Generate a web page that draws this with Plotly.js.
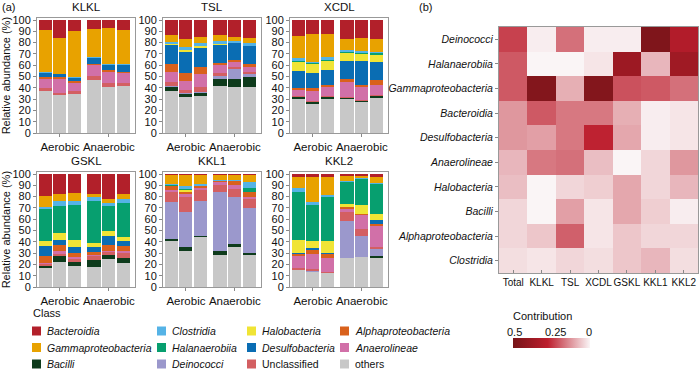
<!DOCTYPE html>
<html>
<head>
<meta charset="utf-8">
<script src="https://cdn.plot.ly/plotly-3.0.1.min.js"></script>
<style>body{margin:0;background:#fff} #chart{width:700px;height:370px}</style>
</head>
<body>
<div id="chart"></div>
<script>
// sites (one panel each), 3 aerobic + 3 anaerobic bars per panel
const sites = ['KLKL', 'TSL', 'XCDL', 'GSKL', 'KKL1', 'KKL2'];
const groupLabels = ['Aerobic', 'Anaerobic'];
const barPos = [1, 2, 3, 4.3, 5.3, 6.3];
const groupPos = [2, 5.3];

// relative abundance (%), 6 bars per site, sites in order above
const others = [37.1, 33.3, 34.2, 46.8, 40.9, 41.5,  37.2, 31.6, 32.7, 41.6, 40.4, 41,  30, 25.9, 30.3, 30, 27.6, 30.9,
                17, 22.5, 19, 18, 25, 21,  41, 32, 44, 28.5, 35.5, 28,  15, 13, 12, 26, 26.5, 26];
const bacilli = [0, 0, 0, 0, 0, 0,  3.2, 2.6, 3.0, 5.9, 7.7, 8.3,  1.8, 1.2, 1.2, 0.9, 0.9, 1.5,
                 1.5, 4.5, 3, 5.5, 3, 4.5,  1.5, 3, 1, 3.5, 2.5, 2.5,  0, 0, 0, 0, 0, 1.5];
const deinococci = [0, 0, 0, 0, 0, 0,  1.2, 0.9, 0.9, 2.9, 8.5, 2.9,  0, 0, 0, 0, 0, 0,
                    0, 0, 0, 0, 0, 0,  32.5, 31, 31, 52, 42, 39.5,  0, 1.5, 0, 32, 18.5, 6];
const unclassified = [2.9, 2.4, 2.9, 3.5, 3.5, 2.9,  3.8, 3.0, 3.8, 2.4, 2.1, 2.1,  0.6, 0.8, 0.9, 0.9, 0.9, 1.4,
                      1.5, 2.5, 3, 3.5, 3, 5,  9, 14, 10, 6, 7, 8,  1.5, 1.5, 1.5, 8.5, 6, 2];
const anaerolineae = [8, 12.3, 6.8, 9.6, 10, 8.8,  8.9, 7.9, 11.8, 7.1, 4.1, 4.4,  5.8, 8.9, 8.2, 12.9, 11.2, 8.8,
                      1.5, 2.5, 1.5, 1, 1, 1.5,  2, 2, 2, 2.5, 3, 2,  10.5, 13, 12.5, 2.5, 12.5, 18.5];
const alphaproteobacteria = [1.4, 1.4, 1.7, 1.2, 1.2, 0.9,  6.8, 7.4, 5.9, 1.8, 1.8, 2.4,  1.5, 2.9, 2.0, 2.9, 2.0, 4.5,
                             5.5, 5, 3.5, 3, 5, 4.5,  3.5, 2.5, 1.5, 1, 3.5, 4.5,  2.5, 4, 3.5, 2, 1, 2];
const desulfobacteria = [3.5, 2.6, 3.5, 5.6, 4.9, 6.1,  16.5, 18.3, 17.4, 16.5, 15.0, 15.6,  15.6, 13.8, 13.3, 16.2, 21.2, 15.3,
                         9, 5, 5, 4, 8, 4.5,  0, 0, 0, 0, 0, 0,  1, 1.5, 0.5, 0, 0, 3];
const halobacteria = [0, 0, 0, 0, 0, 0,  1.4, 1.8, 1.5, 0.6, 0.3, 0.3,  7.6, 7.4, 7.9, 6.8, 5.9, 6.7,
                      5, 6, 7, 4, 5, 3.5,  0, 1.5, 0, 0, 0, 0,  11.5, 6.5, 10.5, 2.5, 8, 6];
const halanaerobiia = [0, 0, 0, 0, 0, 0,  0, 0, 0, 0, 0, 0,  1.2, 0.9, 0.9, 0.9, 1.5, 1.5,
                       28, 24, 31, 37, 22, 29.5,  0.5, 1, 0, 0, 0, 3.5,  42.5, 32, 39.5, 19.5, 23, 26];
const clostridia = [0.9, 0.6, 0.6, 0.6, 0.9, 1.2,  1.8, 2.3, 2.4, 2.9, 1.8, 2.9,  2.1, 1.4, 2.4, 2.0, 1.7, 1.5,
                    2, 4, 3, 4, 2, 4,  1.5, 2, 1.5, 1.5, 1, 5,  3, 2, 1.5, 1, 1, 1];
const gammaproteobacteria = [37.4, 31.3, 40.9, 24.8, 31.3, 29.8,  5.9, 7.1, 5.9, 5.0, 3.0, 4.5,  20, 24.2, 20.5, 9.7, 10.9, 10.8,
                             9.5, 6, 7, 2, 4, 4,  7.5, 10, 8, 4.5, 4.5, 6,  10, 22.5, 16, 4.5, 2, 5];
const bacteroidia = [8.8, 16.1, 9.4, 7.9, 7.3, 8.8,  13.3, 17.1, 14.7, 13.3, 15.3, 15.6,  13.8, 12.6, 12.4, 16.8, 16.2, 17.1,
                     19.5, 18, 17, 18, 22, 18,  1, 1, 1, 0.5, 1, 1,  2.5, 2.5, 2.5, 1.5, 1.5, 3];

// heatmap: contribution of each class per site
const heatCols = ['Total', 'KLKL', 'TSL', 'XCDL', 'GSKL', 'KKL1', 'KKL2'];
const heatRows = ['Deinococci', 'Halanaerobiia', 'Gammaproteobacteria', 'Bacteroidia', 'Desulfobacteria',
                  'Anaerolineae', 'Halobacteria', 'Bacilli', 'Alphaproteobacteria', 'Clostridia'];
const contribution = [
  [0.23, 0.01, 0.17, 0.01, 0.01, 0.47, 0.31],
  [0.2, 0.0, 0.0, 0.02, 0.38, 0.08, 0.37],
  [0.2, 0.46, 0.09, 0.46, 0.21, 0.2, 0.17],
  [0.12, 0.2, 0.16, 0.16, 0.09, 0.01, 0.02],
  [0.12, 0.11, 0.16, 0.27, 0.1, 0.01, 0.02],
  [0.08, 0.16, 0.17, 0.07, 0.0, 0.04, 0.12],
  [0.07, 0.0, 0.04, 0.05, 0.1, 0.04, 0.08],
  [0.04, 0.0, 0.11, 0.02, 0.1, 0.05, 0.01],
  [0.04, 0.06, 0.19, 0.02, 0.06, 0.04, 0.04],
  [0.03, 0.02, 0.04, 0.03, 0.06, 0.08, 0.03]
];

// stack order bottom -> top
const stack = [
  {name: 'others', vals: others, color: '#c8c8c8'},
  {name: 'Bacilli', vals: bacilli, color: '#0e3b1c'},
  {name: 'Deinococci', vals: deinococci, color: '#9b98cc'},
  {name: 'Unclassified', vals: unclassified, color: '#d35f62'},
  {name: 'Anaerolineae', vals: anaerolineae, color: '#d170a8'},
  {name: 'Alphaproteobacteria', vals: alphaproteobacteria, color: '#d9611c'},
  {name: 'Desulfobacteria', vals: desulfobacteria, color: '#0a6db3'},
  {name: 'Halobacteria', vals: halobacteria, color: '#f0e435'},
  {name: 'Halanaerobiia', vals: halanaerobiia, color: '#079f6f'},
  {name: 'Clostridia', vals: clostridia, color: '#55b3e6'},
  {name: 'Gammaproteobacteria', vals: gammaproteobacteria, color: '#e8a200'},
  {name: 'Bacteroidia', vals: bacteroidia, color: '#b2202a'}
];
const legendOrder = ['Bacteroidia', 'Clostridia', 'Halobacteria', 'Alphaproteobacteria',
                     'Gammaproteobacteria', 'Halanaerobiia', 'Desulfobacteria', 'Anaerolineae',
                     'Bacilli', 'Deinococci', 'Unclassified', 'others'];

const W = 700, H = 370;
function px(x){ return x / W; }
function py(y){ return 1 - y / H; }
const FONT = '"Liberation Sans", Arial, sans-serif';

const colX = [[37, 135], [163, 261], [290, 388]];
const rowY = [[18.3, 133], [172.3, 287]];

let data = [];
let layout = {
  width: W, height: H,
  margin: {l: 0, r: 0, t: 0, b: 0},
  paper_bgcolor: '#fff', plot_bgcolor: '#fff',
  barmode: 'stack', bargap: 0,
  showlegend: false,
  font: {family: FONT, size: 11, color: '#111'},
  annotations: [], shapes: []
};

for (let s = 0; s < sites.length; s++) {
  let n = s + 1;
  let xa = n === 1 ? 'x' : 'x' + n, ya = n === 1 ? 'y' : 'y' + n;
  let c = colX[s % 3], r = rowY[Math.floor(s / 3)];
  stack.forEach(function(cls){
    data.push({
      type: 'bar', x: barPos, y: cls.vals.slice(s * 6, s * 6 + 6),
      xaxis: xa, yaxis: ya, width: 0.88, name: cls.name,
      marker: {color: cls.color, line: {width: 0}},
      hovertemplate: sites[s] + '<br>' + cls.name + ': %{y}%<extra></extra>'
    });
  });
  layout['xaxis' + (n === 1 ? '' : n)] = {
    domain: [px(c[0]), px(c[1])], anchor: ya, range: [0.45, 7.07],
    tickvals: groupPos, ticktext: groupLabels, ticks: 'outside', ticklen: 3, tickcolor: '#888',
    showline: true, mirror: true, linecolor: '#999', linewidth: 1,
    showgrid: false, zeroline: false, tickfont: {size: 11.5}, fixedrange: true
  };
  layout['yaxis' + (n === 1 ? '' : n)] = {
    domain: [py(r[1]), py(r[0])], anchor: xa, range: [0, 101.5], dtick: 10, tick0: 0,
    ticks: 'outside', ticklen: 3, tickcolor: '#888',
    showline: true, mirror: true, linecolor: '#999', linewidth: 1,
    showgrid: false, zeroline: false, tickfont: {size: 11}, fixedrange: true,
    title: s % 3 === 0 ? {text: 'Relative abundance (%)', font: {size: 11}, standoff: 3} : undefined
  };
  layout.annotations.push({
    text: sites[s], xref: 'paper', yref: 'paper', x: px((c[0] + c[1]) / 2), y: py(r[0] - 11.5),
    xanchor: 'center', yanchor: 'middle', showarrow: false, font: {size: 11.5}
  });
}

// heatmap, z negated so the colour bar reads 0.5 -> 0 left to right
data.push({
  type: 'heatmap', x: heatCols, y: heatRows,
  z: contribution.map(function(row){ return row.map(function(v){ return -v; }); }),
  customdata: contribution,
  xaxis: 'x7', yaxis: 'y7', zmin: -0.5, zmax: 0,
  colorscale: [[0, '#761418'], [0.45, '#bd1e2d'], [1, '#faf5f6']],
  hovertemplate: '%{y} / %{x}: %{customdata}<extra></extra>',
  colorbar: {
    orientation: 'h', x: px(513), xanchor: 'left', y: py(338), yanchor: 'top',
    len: 77, lenmode: 'pixels', thickness: 10, thicknessmode: 'pixels',
    showticklabels: false, ticks: '', outlinewidth: 0, xpad: 0, ypad: 0
  }
});
layout.xaxis7 = {
  domain: [px(499), px(698)], anchor: 'y7', ticks: 'inside', ticklen: 3, tickcolor: '#888',
  showline: true, mirror: true, linecolor: '#999', linewidth: 1, showgrid: false, zeroline: false,
  tickangle: 0, tickfont: {size: 10}, fixedrange: true
};
layout.yaxis7 = {
  domain: [py(273), py(27)], anchor: 'x7', autorange: 'reversed',
  tickvals: heatRows, ticktext: heatRows.map(function(t){ return '<i>' + t + '</i>'; }),
  ticks: 'outside', ticklen: 3, tickcolor: '#888',
  showline: true, mirror: true, linecolor: '#999', linewidth: 1, showgrid: false, zeroline: false,
  tickfont: {size: 10.5}, fixedrange: true
};

// colour bar labels
layout.annotations.push(
  {text: 'Contribution', x: px(511), y: py(316), xanchor: 'left', yanchor: 'middle'},
  {text: '0.5', x: px(514), y: py(332), xanchor: 'center', yanchor: 'middle'},
  {text: '0.25', x: px(555), y: py(332), xanchor: 'center', yanchor: 'middle'},
  {text: '0', x: px(589), y: py(332), xanchor: 'center', yanchor: 'middle'}
);

// panel labels
layout.annotations.push(
  {text: '(a)', x: px(0), y: py(7), xanchor: 'left', yanchor: 'middle'},
  {text: '(b)', x: px(417), y: py(7), xanchor: 'left', yanchor: 'middle'}
);

// class legend, 4 columns
const legX = [32, 157, 247, 340];
const legY = [331, 347.5, 364];
layout.annotations.push({text: 'Class', x: px(31), y: py(313), xanchor: 'left', yanchor: 'middle'});
legendOrder.forEach(function(name, i){
  let cls = stack.find(function(k){ return k.name === name; });
  let x = legX[i % 4], y = legY[Math.floor(i / 4)];
  layout.shapes.push({
    type: 'rect', xref: 'paper', yref: 'paper',
    x0: px(x), x1: px(x + 9), y0: py(y + 4.5), y1: py(y - 4.5),
    fillcolor: cls.color, line: {width: 0}
  });
  let italic = name !== 'Unclassified' && name !== 'others';
  layout.annotations.push({
    text: italic ? '<i>' + name + '</i>' : name,
    x: px(x + 13), y: py(y), xanchor: 'left', yanchor: 'middle', font: {size: 10.5}
  });
});

layout.annotations.forEach(function(a){
  a.xref = 'paper'; a.yref = 'paper'; a.showarrow = false;
  if (!a.font) a.font = {size: 11};
});

Plotly.newPlot('chart', data, layout, {displayModeBar: false, staticPlot: true});
</script>
</body>
</html>
